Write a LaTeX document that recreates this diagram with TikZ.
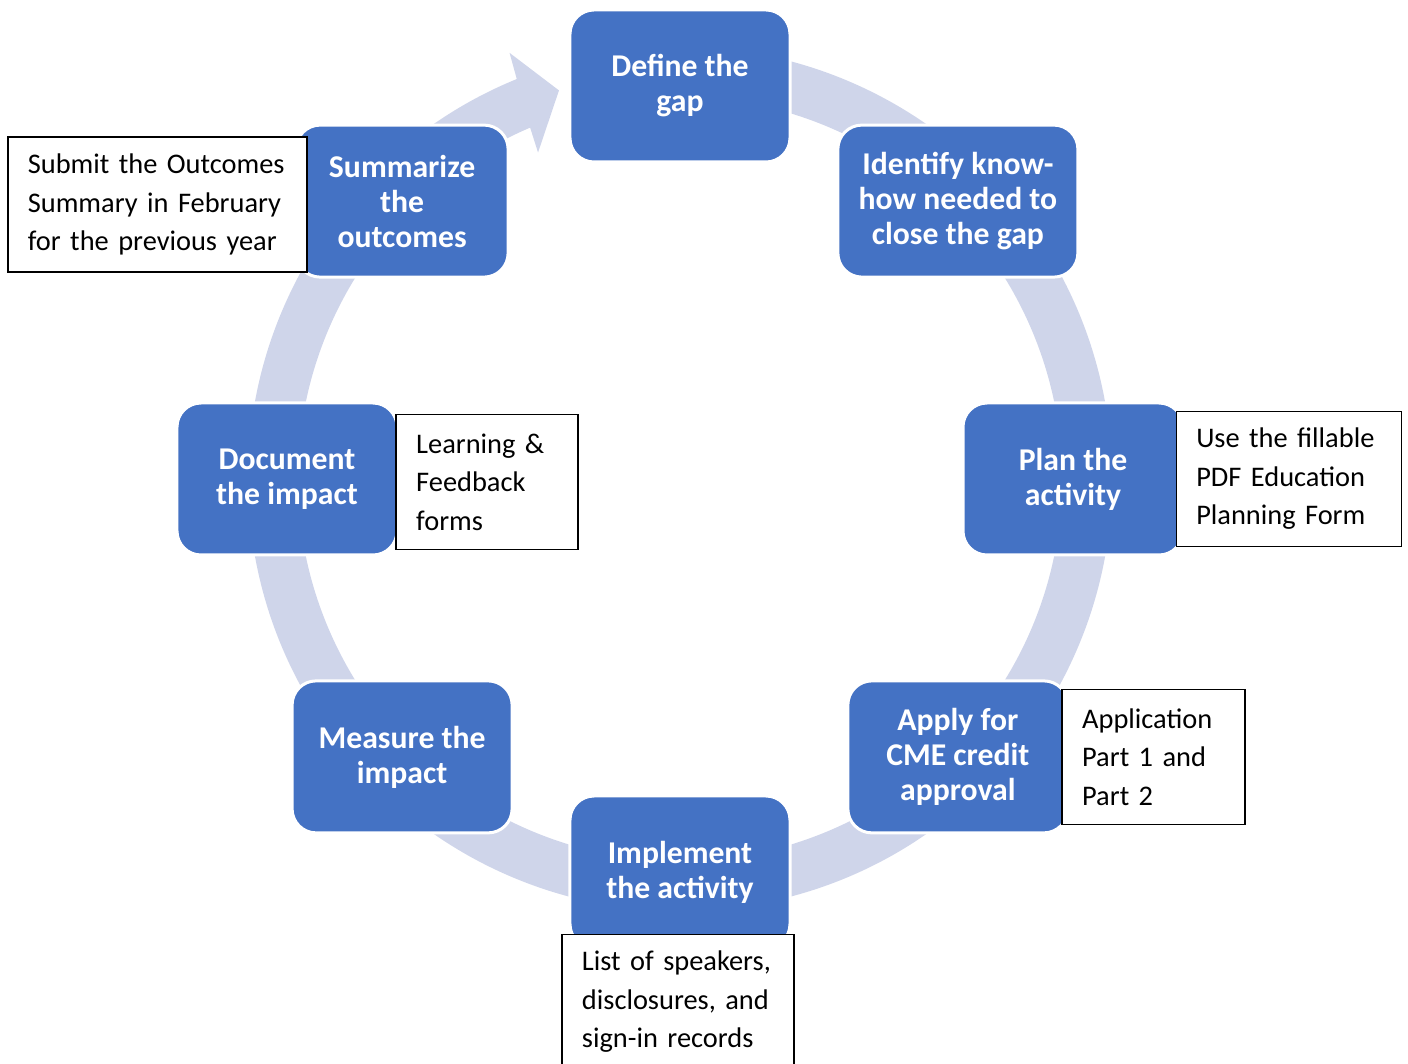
\documentclass[tikz,border=0pt]{standalone}
\usepackage{fontspec}
\setmainfont{Carlito}
\usetikzlibrary{positioning,calc}
\definecolor{cycleblue}{HTML}{4472C4}
\definecolor{ringblue}{HTML}{CFD5EA}

\begin{document}
\begin{tikzpicture}[
  x=0.5pt, y=0.5pt,
  stage/.style={rectangle, rounded corners=12pt, fill=cycleblue, draw=white,
    line width=1.5pt, minimum width=110pt, minimum height=76pt, text=white,
    align=center, font=\bfseries\fontsize{15.85pt}{17.5pt}\selectfont},
  note/.style={rectangle, draw=black, line width=0.75pt, fill=white, align=left,
    inner xsep=10pt, minimum height=67.5pt,
    font=\fontsize{14.2pt}{19.25pt}\selectfont}
]
\useasboundingbox (-680,-585) rectangle (728,479);
\coordinate (O) at (0,0);
\fill[ringblue] ($(O)+(100:432)$) arc[start angle=100, end angle=-247.8, radius=432]
  -- (-248.2:459) -- (-252.7:407) -- (-246.5:356) -- (-246.9:382)
  arc[start angle=-246.9, end angle=100, radius=382] -- cycle;

\node[stage] (define) at (90:393) {Define the\\gap};
\node[stage, minimum width=120pt] (identify) at (45:393) {Identify know-\\how needed to\\close the gap};
\node[stage] (plan) at (0:393) {Plan the\\activity};
\node[stage] (apply) at (-45:393) {Apply for\\CME credit\\approval};
\node[stage] (implement) at (-90:393) {Implement\\the activity};
\node[stage] (measure) at (-135:393) {Measure the\\impact};
\node[stage] (document) at (180:393) {Document\\the impact};
\node[stage, minimum width=106pt] (summarize) at (135:393) {Summarize\\the\\outcomes};

\node[note, text width=129.5pt, left=-6.5pt of summarize, yshift=-1.75pt] (submit)
  {Submit the Outcomes\\Summary in February\\for the previous year};
\node[note, text width=71pt, right=-1.5pt of document, yshift=-1.5pt] (forms) {Learning \&\\Feedback\\forms};
\node[note, text width=92.5pt, right=-4.5pt of plan] (pdf) {Use the fillable\\PDF Education\\Planning Form};
\node[note, text width=71.5pt, right=-4pt of apply] (parts) {Application\\Part 1 and\\Part 2};
\node[note, text width=96pt, below=-8pt of implement, xshift=-1pt] (records)
  {List of speakers,\\disclosures, and\\sign-in records};
\end{tikzpicture}
\end{document}
